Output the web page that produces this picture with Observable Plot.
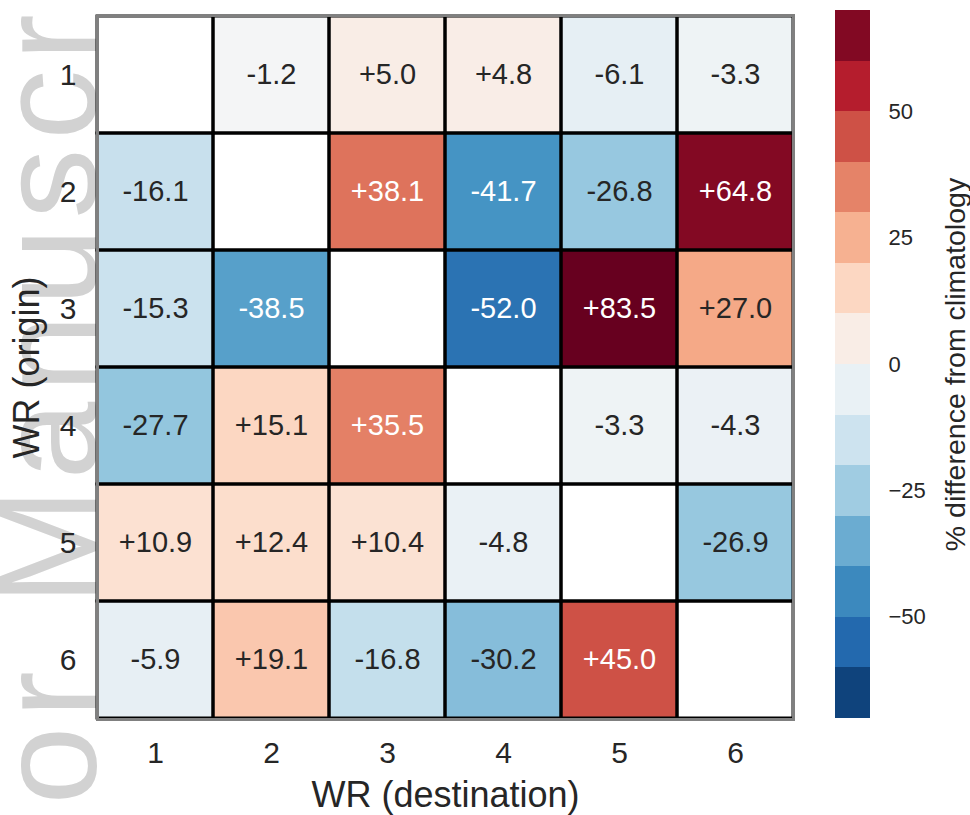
<!DOCTYPE html>
<html>
<head>
<meta charset="utf-8">
<script src="https://cdn.jsdelivr.net/npm/d3@7"></script>
<script src="https://cdn.jsdelivr.net/npm/@observablehq/plot@0.6"></script>
<style>
  html, body { margin: 0; padding: 0; background: white; }
  #wrap { position: relative; width: 970px; height: 815px; overflow: hidden; font-family: "Liberation Sans", Arial, sans-serif; }
  #wrap > * { position: absolute; top: 0; }
</style>
</head>
<body>
<div id="wrap"></div>
<script>
// ---- data ----
const origins = [1, 2, 3, 4, 5, 6];        // WR (origin), rows
const destinations = [1, 2, 3, 4, 5, 6];   // WR (destination), columns
const fromWR1 = [null, -1.2, 5.0, 4.8, -6.1, -3.3];
const fromWR2 = [-16.1, null, 38.1, -41.7, -26.8, 64.8];
const fromWR3 = [-15.3, -38.5, null, -52.0, 83.5, 27.0];
const fromWR4 = [-27.7, 15.1, 35.5, null, -3.3, -4.3];
const fromWR5 = [10.9, 12.4, 10.4, -4.8, null, -26.9];
const fromWR6 = [-5.9, 19.1, -16.8, -30.2, 45.0, null];
const colorStops = [-70, -56, -42, -28, -14, 0, 14, 28, 42, 56, 70];
const rdbuR = ["#053061", "#2166ac", "#4393c3", "#92c5de", "#d1e5f0", "#f7f7f7",
               "#fddbc7", "#f4a582", "#d6604d", "#b2182b", "#67001f"];
const cbarEdges = [-70, -60, -50, -40, -30, -20, -10, 0, 10, 20, 30, 40, 50, 60, 70];
const cbarTicks = [-50, -25, 0, 25, 50];
const xLabel = "WR (destination)";
const yLabel = "WR (origin)";
const cbarLabel = "% difference from climatology";
const watermarkWords = ["Author", "Manuscript"];

// ---- tables ----
const rows = [fromWR1, fromWR2, fromWR3, fromWR4, fromWR5, fromWR6];
const cells = [];
origins.forEach((o, i) => destinations.forEach((d, j) => cells.push({orig: o, dest: d, v: rows[i][j]})));
const valued = cells.filter(d => d.v != null);
const fmt = d => (d.v > 0 ? "+" : "") + d.v.toFixed(1);
const isDark = d => Math.abs(d.v) >= 33;
const bins = cbarEdges.slice(0, -1).map((lo, i) => ({lo, hi: cbarEdges[i + 1], mid: (lo + cbarEdges[i + 1]) / 2}));

const colorScale = {type: "linear", domain: colorStops, range: rdbuR, clamp: true};
const font = "Liberation Sans, Arial, sans-serif";
const wrap = document.getElementById("wrap");

// watermark (behind everything)
const ns = "http://www.w3.org/2000/svg";
const wm = document.createElementNS(ns, "svg");
wm.setAttribute("width", 970); wm.setAttribute("height", 815);
wm.style.left = "0px";
function wmText(str, y, anchor) {
  const t = document.createElementNS(ns, "text");
  t.setAttribute("x", 96); t.setAttribute("y", y);
  t.setAttribute("transform", `rotate(-90,96,${y})`);
  t.setAttribute("font-size", 140);
  t.setAttribute("letter-spacing", 9);
  t.setAttribute("text-anchor", anchor);
  t.setAttribute("font-family", font);
  t.setAttribute("fill", "#d2d2d2");
  t.textContent = str;
  wm.appendChild(t);
}
wmText(watermarkWords[0], 662, "end");
wmText(watermarkWords[1], 605, "start");
wrap.appendChild(wm);

// main heatmap
const main = Plot.plot({
  width: 830, height: 815,
  marginLeft: 97, marginRight: 37, marginTop: 15, marginBottom: 96,
  style: {background: "transparent", fontFamily: font, color: "#262626"},
  x: {type: "band", domain: destinations, padding: 0, label: null},
  y: {type: "band", domain: origins, padding: 0, label: null},
  color: colorScale,
  marks: [
    Plot.cell(cells, {x: "dest", y: "orig", fill: "white", inset: 0}),
    Plot.cell(valued, {x: "dest", y: "orig", fill: "v", inset: 0}),
    Plot.cell(cells, {x: "dest", y: "orig", fill: "none", stroke: "black", strokeWidth: 3, inset: 0}),
    Plot.text(valued.filter(d => !isDark(d)), {x: "dest", y: "orig", text: fmt, fill: "#262626", fontSize: 29}),
    Plot.text(valued.filter(isDark), {x: "dest", y: "orig", text: fmt, fill: "white", fontSize: 29}),
    Plot.frame({stroke: "#808080", strokeWidth: 3}),
    Plot.axisX({tickSize: 0, tickPadding: 22, fontSize: 30, label: null}),
    Plot.axisY({tickSize: 0, tickPadding: 21, fontSize: 30, label: null}),
    Plot.text([xLabel], {frameAnchor: "bottom", dy: 87, fontSize: 36, fill: "#262626"}),
    Plot.text([yLabel], {frameAnchor: "left", textAnchor: "middle", dx: -70, rotate: -90, fontSize: 36, fill: "#262626"})
  ]
});
main.style.left = "0px";
wrap.appendChild(main);

// colorbar
const cbar = Plot.plot({
  width: 140, height: 815,
  marginLeft: 5, marginRight: 100, marginTop: 10, marginBottom: 97,
  style: {background: "transparent", fontFamily: font, color: "#262626"},
  x: {domain: [0, 1], axis: null},
  y: {domain: [-70, 70], axis: null},
  color: colorScale,
  marks: [
    Plot.rect(bins, {x1: 0, x2: 1, y1: "lo", y2: "hi", fill: "mid", inset: 0, shapeRendering: "crispEdges"}),
    Plot.axisY(cbarTicks, {anchor: "right", tickSize: 0, tickPadding: 18, fontSize: 22,
      tickFormat: d => (d < 0 ? "\u2212" + (-d) : String(d)), label: null}),
    Plot.text([cbarLabel], {frameAnchor: "right", textAnchor: "middle", dx: 85, rotate: -90, fontSize: 28.5, fill: "#262626"})
  ]
});
cbar.style.left = "830px";
wrap.appendChild(cbar);
</script>
</body>
</html>
